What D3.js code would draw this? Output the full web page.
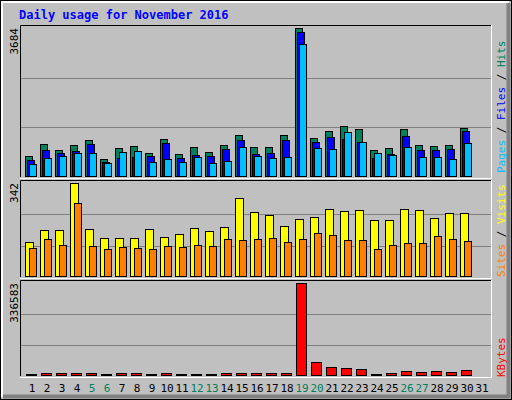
<!DOCTYPE html>
<html>
<head>
<meta charset="utf-8">
<script src="https://cdn.jsdelivr.net/npm/d3@7"></script>
<style>
  body { margin: 0; background: #fff; }
  text { font-family: "DejaVu Sans Mono", monospace; }
</style>
</head>
<body>
<svg id="chart" width="512" height="400"></svg>
<script>
// day numbers and weekend days
const days = d3.range(1, 32);
const weekends = [5, 6, 12, 13, 19, 20, 26, 27];

// (day 31 has no data)
const hits = [523, 821, 672, 797, 921, 448, 722, 772, 597, 946, 573, 747, 622, 797, 1046,
  747, 747, 1046, 3684, 971, 1145, 1270, 1195, 672, 722, 1195, 797, 772, 797, 1220];
const files = [423, 672, 597, 647, 821, 373, 473, 498, 523, 846, 473, 548, 523, 697, 921,
  573, 597, 921, 3585, 871, 996, 946, 871, 473, 573, 1021, 672, 672, 697, 1145];
const pages = [324, 473, 523, 597, 597, 349, 622, 647, 373, 448, 373, 498, 349, 398, 747,
  523, 473, 498, 3286, 722, 697, 1120, 871, 597, 548, 747, 498, 498, 448, 846];
const sites = [126, 171, 171, 342, 174, 141, 141, 141, 174, 145, 156, 178, 167, 182, 288,
  237, 226, 185, 211, 218, 248, 240, 244, 207, 207, 248, 244, 215, 233, 233];
const visits = [104, 137, 115, 270, 112, 101, 108, 104, 101, 112, 108, 115, 112, 137, 134,
  137, 141, 126, 137, 160, 152, 134, 134, 101, 115, 123, 123, 148, 137, 130];
const kbytes = [7370, 12280, 12280, 12280, 12280, 7370, 12280, 12280, 7370, 12280, 7370, 7370,
  7370, 12280, 12280, 12280, 12280, 12280, 336583, 49120, 34380, 30700, 27000, 8600, 12280,
  19650, 15960, 19650, 15960, 23330];

const svg = d3.select("#chart");
const W = 512, H = 400;
const left = 20, right = 491;

// window frame
svg.append("rect").attr("x", 0).attr("y", 0).attr("width", W).attr("height", H).attr("fill", "#c0c0c0");
svg.append("rect").attr("x", 0.5).attr("y", 0.5).attr("width", W - 1).attr("height", H - 1)
  .attr("fill", "none").attr("stroke", "#000");
svg.append("path").attr("d", `M2,${H - 3}V2H${W - 3}`).attr("stroke", "#fff").attr("stroke-width", 2).attr("fill", "none");
svg.append("path").attr("d", `M${W - 3.5},3V${H - 3.5}H3`).attr("stroke", "#808080").attr("stroke-width", 4).attr("fill", "none");

svg.append("text").attr("x", 19).attr("y", 19)
  .attr("fill", "#0000ff").attr("font-size", 12).attr("font-weight", "bold")
  .text("Daily usage for November 2016");

const x = d3.scaleBand().domain(days).range([left + 2, left + 2 + 31 * 15]);

const panels = [
  { top: 25, bottom: 177, max: 3684, label: "3684" },
  { top: 180, bottom: 277, max: 342, label: "342" },
  { top: 280, bottom: 376, max: 336583, label: "336583" }
];

panels.forEach(p => {
  p.y = d3.scaleLinear().domain([0, p.max]).range([p.bottom, p.top + 3]);
  svg.append("path").attr("d", `M${left + 0.5},${p.bottom}V${p.top + 0.5}H${right}`)
    .attr("stroke", "#000").attr("fill", "none");
  svg.append("path").attr("d", `M${right + 0.5},${p.top}V${p.bottom + 1.5}H${left}`)
    .attr("stroke", "#fff").attr("fill", "none");
  [1, 2].forEach(k => {
    const gy = Math.round(p.bottom - (p.bottom - p.top - 3) * k / 3) + 0.5;
    svg.append("line").attr("x1", left + 1).attr("x2", right).attr("y1", gy).attr("y2", gy)
      .attr("stroke", "#808080");
  });
  svg.append("text").attr("transform", `translate(18,${p.top + 3}) rotate(-90)`)
    .attr("text-anchor", "end").attr("font-size", 11).attr("fill", "#000").text(p.label);
});

function bars(values, panel, offset, width, color) {
  svg.append("g").selectAll("rect").data(values).join("rect")
    .attr("x", (d, i) => x(days[i]) + offset + 0.5)
    .attr("y", d => Math.round(panel.y(d)) + 0.5)
    .attr("width", width)
    .attr("height", d => Math.max(1, panel.bottom - Math.round(panel.y(d)) - 1))
    .attr("fill", color).attr("stroke", "#000");
}

bars(hits, panels[0], 3, 7, "#00805c");
bars(files, panels[0], 5, 7, "#0000ff");
bars(pages, panels[0], 7, 7, "#00c0ff");
bars(sites, panels[1], 3, 8, "#ffff00");
bars(visits, panels[1], 7, 7, "#ff8000");
bars(kbytes, panels[2], 4, 10, "#ff0000");

// day labels
svg.append("g").selectAll("text").data(days).join("text")
  .attr("x", d => x(d) + 10).attr("y", 392)
  .attr("text-anchor", "middle").attr("font-size", 11)
  .attr("font-family", "DejaVu Sans")
  .attr("fill", d => weekends.includes(d) ? "#00805c" : "#000")
  .text(d => d);

// right side legends
function legend(parts, yBottom) {
  const t = svg.append("text").attr("transform", `translate(505,${yBottom}) rotate(-90)`)
    .attr("font-size", 11);
  parts.forEach(([s, c]) => t.append("tspan").attr("fill", c).text(s));
}
legend([["Pages", "#00c0ff"], [" / ", "#000"], ["Files", "#0000ff"], [" / ", "#000"], ["Hits", "#00805c"]], 173);
legend([["Sites", "#ff8000"], [" / ", "#000"], ["Visits", "#ffff00"]], 277);
legend([["KBytes", "#ff0000"]], 377);
</script>
</body>
</html>
